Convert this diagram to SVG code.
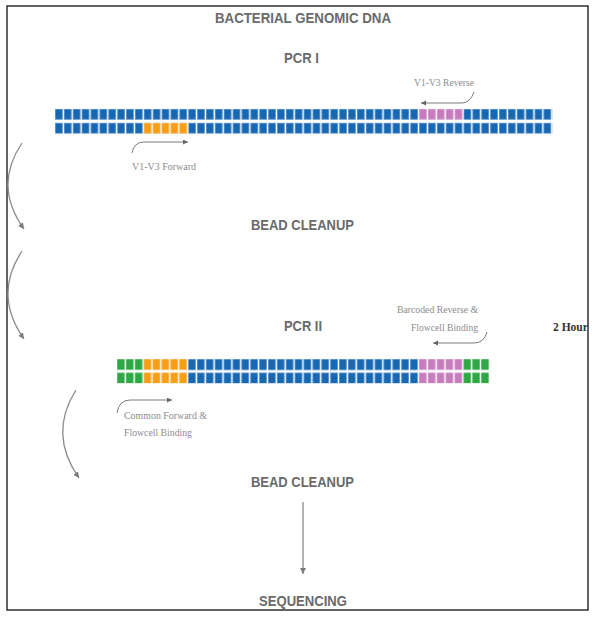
<svg xmlns="http://www.w3.org/2000/svg" width="594" height="619" viewBox="0 0 594 619">
<style>
.h{font-family:"Liberation Sans",Arial,sans-serif;font-weight:bold;fill:#6a6a6a;font-size:15px}
.l{font-family:"Liberation Serif","Times New Roman",serif;fill:#8c8c8c;font-size:10px}
.c{fill:none;stroke:#8a8a8a;stroke-width:1.3}
.p{fill:none;stroke:#7a7a7a;stroke-width:1}
</style>
<defs>
<marker id="ah" markerUnits="userSpaceOnUse" markerWidth="8" markerHeight="8" refX="6" refY="3" orient="auto"><path d="M0,0 L6,3 L0,6 Z" fill="#7a7a7a"/></marker>
<marker id="as" markerUnits="userSpaceOnUse" markerWidth="8" markerHeight="8" refX="5" refY="2.5" orient="auto"><path d="M0,0 L5,2.5 L0,5 Z" fill="#666"/></marker>
<pattern id="p1b" patternUnits="userSpaceOnUse" x="55" y="108.8" width="8.88" height="14"><rect x="0.2" y="0.2" width="7.4" height="10.6" fill="#1767b3" stroke="#6fa3d6" stroke-width="0.4"/></pattern>
<pattern id="p1o" patternUnits="userSpaceOnUse" x="55" y="108.8" width="8.88" height="14"><rect x="0.2" y="0.2" width="7.4" height="10.6" fill="#f79d17"/></pattern>
<pattern id="p1p" patternUnits="userSpaceOnUse" x="55" y="108.8" width="8.88" height="14"><rect x="0.2" y="0.2" width="7.4" height="10.6" fill="#c77dbd"/></pattern>
<pattern id="p2b" patternUnits="userSpaceOnUse" x="117" y="359" width="8.88" height="13.5"><rect x="0.2" y="0.2" width="7.4" height="10.6" fill="#1767b3" stroke="#6fa3d6" stroke-width="0.4"/></pattern>
<pattern id="p2o" patternUnits="userSpaceOnUse" x="117" y="359" width="8.88" height="13.5"><rect x="0.2" y="0.2" width="7.4" height="10.6" fill="#f79d17"/></pattern>
<pattern id="p2p" patternUnits="userSpaceOnUse" x="117" y="359" width="8.88" height="13.5"><rect x="0.2" y="0.2" width="7.4" height="10.6" fill="#c77dbd"/></pattern>
<pattern id="p2g" patternUnits="userSpaceOnUse" x="117" y="359" width="8.88" height="13.5"><rect x="0.2" y="0.2" width="7.4" height="10.6" fill="#2ea845"/></pattern>
<clipPath id="fr"><rect x="7" y="6" width="581" height="604"/></clipPath>
</defs>
<rect x="0" y="0" width="594" height="619" fill="#fff"/>
<rect id="frame" x="7" y="6" width="581" height="604" fill="none" stroke="#222" stroke-width="1.4"/>

<g id="title"><text class="h" x="303" y="23" text-anchor="middle" textLength="176" lengthAdjust="spacingAndGlyphs">BACTERIAL GENOMIC DNA</text></g>
<g id="pcr1"><text class="h" x="301.5" y="63" text-anchor="middle" textLength="35" lengthAdjust="spacingAndGlyphs">PCR I</text></g>
<g id="bead1"><text class="h" x="302.5" y="230" text-anchor="middle" textLength="103" lengthAdjust="spacingAndGlyphs">BEAD CLEANUP</text></g>
<g id="pcr2"><text class="h" x="303" y="331" text-anchor="middle" textLength="38" lengthAdjust="spacingAndGlyphs">PCR II</text></g>
<g id="bead2"><text class="h" x="302.5" y="487" text-anchor="middle" textLength="103" lengthAdjust="spacingAndGlyphs">BEAD CLEANUP</text></g>
<g id="seq"><text class="h" x="303" y="606" text-anchor="middle" textLength="88" lengthAdjust="spacingAndGlyphs">SEQUENCING</text></g>
<g id="hours" clip-path="url(#fr)"><text x="553" y="330.5" font-family="'Liberation Serif','Times New Roman',serif" font-size="11.5" font-weight="bold" fill="#333">2 Hours</text></g>

<g id="strand1">
<rect x="55" y="108.8" width="497.3" height="25" fill="url(#p1b)"/>
<rect x="143.8" y="122.8" width="44.4" height="11" fill="#fff"/>
<rect x="143.8" y="122.8" width="44.4" height="11" fill="url(#p1o)"/>
<rect x="419.1" y="108.8" width="44.4" height="11" fill="#fff"/>
<rect x="419.1" y="108.8" width="44.4" height="11" fill="url(#p1p)"/>
</g>
<g id="strand2">
<rect x="117" y="359" width="26.64" height="24.5" fill="url(#p2g)"/>
<rect x="143.64" y="359" width="44.4" height="24.5" fill="url(#p2o)"/>
<rect x="188.04" y="359" width="230.88" height="24.5" fill="url(#p2b)"/>
<rect x="418.92" y="359" width="44.4" height="24.5" fill="url(#p2p)"/>
<rect x="463.32" y="359" width="26.64" height="24.5" fill="url(#p2g)"/>
</g>

<g id="labels">
<text class="l" x="414" y="86" textLength="60" lengthAdjust="spacingAndGlyphs">V1-V3 Reverse</text>
<text class="l" x="132" y="170" textLength="64" lengthAdjust="spacingAndGlyphs">V1-V3 Forward</text>
<text class="l" x="124" y="419" textLength="83" lengthAdjust="spacingAndGlyphs">Common Forward &amp;</text>
<text class="l" x="124" y="436" textLength="68" lengthAdjust="spacingAndGlyphs">Flowcell Binding</text>
<text class="l" x="478" y="313" text-anchor="end" textLength="81" lengthAdjust="spacingAndGlyphs">Barcoded Reverse &amp;</text>
<text class="l" x="478" y="331" text-anchor="end" textLength="67" lengthAdjust="spacingAndGlyphs">Flowcell Binding</text>
</g>

<g id="connectors">
<path class="c" d="M22,143 Q-7,186 24,229" marker-end="url(#ah)"/>
<path class="c" d="M22,251 Q-7,295 24,339" marker-end="url(#ah)"/>
<path class="c" d="M76,390 Q48,434 79,478" marker-end="url(#ah)"/>
<path class="c" d="M303,502 L303,574" marker-end="url(#ah)"/>
<path class="p" d="M474,92 Q470,103 462,103 L421,103" marker-end="url(#as)"/>
<path class="p" d="M132,153 Q134,142 144,142 L188,142" marker-end="url(#as)"/>
<path class="p" d="M117,413 Q119,400 130,400 L172,400" marker-end="url(#as)"/>
<path class="p" d="M487,332 Q484,343 474,343 L433,343" marker-end="url(#as)"/>
</g>
</svg>
